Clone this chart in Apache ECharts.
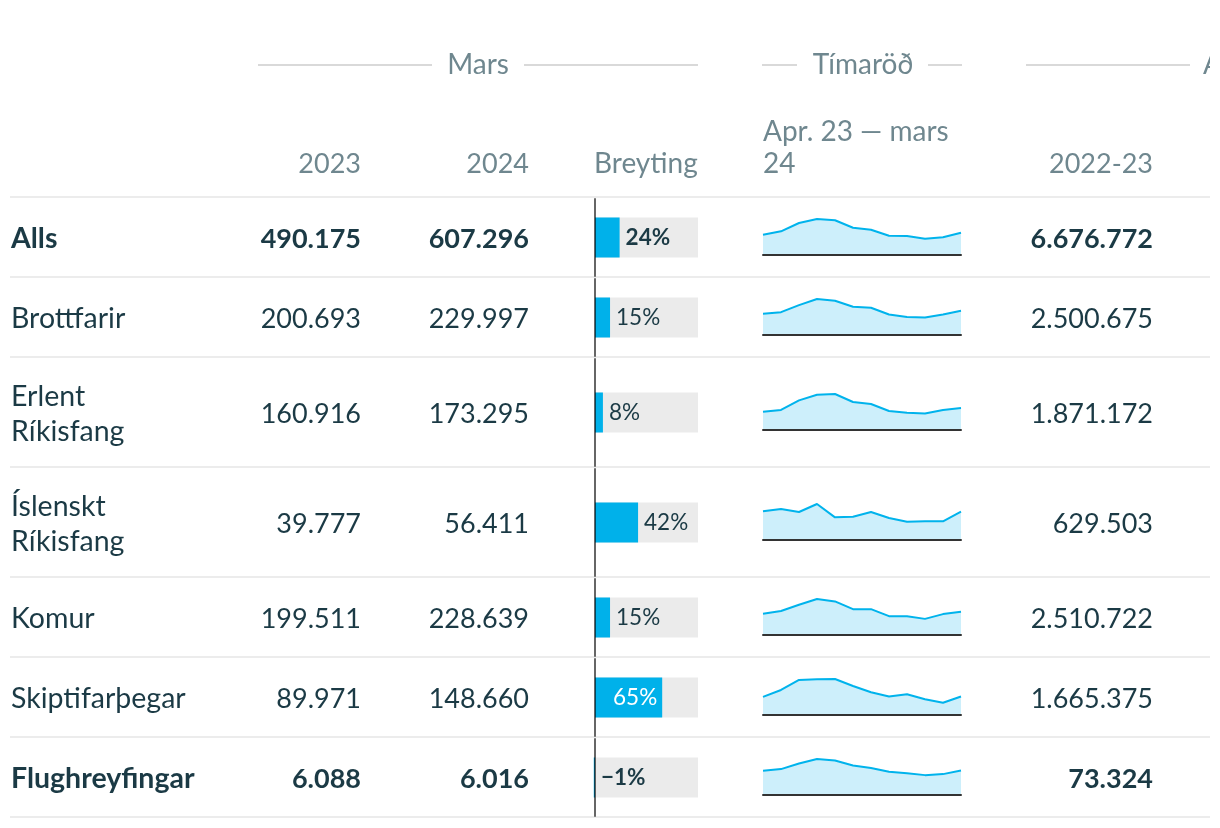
<!DOCTYPE html>
<html><head><meta charset="utf-8">
<script src="https://cdn.jsdelivr.net/npm/echarts@6/dist/echarts.min.js"></script>
<style>html,body{margin:0;padding:0;background:#fff}#c{width:1220px;height:828px}</style>
</head><body><div id="c"></div>
<script>
// ---- data ----
const rowLabels = ['Alls', 'Brottfarir', 'Erlent\nRíkisfang', 'Íslenskt\nRíkisfang', 'Komur', 'Skiptifarþegar', 'Flughreyfingar'];
const boldRows = [true, false, false, false, false, false, true];
const mars2023 = [490175, 200693, 160916, 39777, 199511, 89971, 6088];
const mars2024 = [607296, 229997, 173295, 56411, 228639, 148660, 6016];
const year2223 = [6676772, 2500675, 1871172, 629503, 2510722, 1665375, 73324];
const months = ['apr', 'maí', 'jún', 'júl', 'ágú', 'sep', 'okt', 'nóv', 'des', 'jan', 'feb', 'mar'];
const sparkAlls = [553000, 645000, 871000, 980000, 945000, 743000, 689000, 526000, 517000, 444000, 482000, 607296];
const sparkBrottfarir = [201000, 217000, 284000, 342000, 326000, 268000, 259000, 195000, 172000, 166000, 195000, 229997];
const sparkErlent = [144000, 158000, 234000, 278000, 284000, 221000, 205000, 150000, 136000, 131000, 158000, 173295];
const sparkIslenskt = [57200, 61800, 55800, 71800, 45200, 46400, 55800, 43800, 36500, 37300, 37300, 56411];
const sparkKomur = [209000, 236000, 298000, 355000, 331000, 255000, 255000, 186000, 186000, 159000, 206000, 228639];
const sparkSkipti = [146000, 201000, 281000, 286000, 289000, 233000, 183000, 148000, 167000, 127000, 98000, 148660];
const sparkFlug = [5940, 6360, 7750, 8840, 8490, 7260, 6610, 5700, 5370, 4880, 5130, 6016];
const sparks = [sparkAlls, sparkBrottfarir, sparkErlent, sparkIslenskt, sparkKomur, sparkSkipti, sparkFlug];
const groupHeaders = ['Mars', 'Tímaröð', 'Ár'];
const colHeaders = ['2023', '2024', 'Breyting', 'Apr. 23 — mars\n24', '2022-23'];

// ---- helpers ----
const FONT = 'Lato';
const HEAD = '#6f878f';
const BODY = '#1b3a45';
function fmt(n) { return String(n).replace(/\B(?=(\d{3})+(?!\d))/g, '.'); }
const change = mars2024.map((v, i) => (v / mars2023[i] - 1) * 100);
function pct(v) { const r = Math.round(v); return (r < 0 ? '\u2212' + Math.abs(r) : r) + '%'; }

// layout
const tableTop = 197;
const rowH = rowLabels.map(l => l.includes('\n') ? 110 : 80);
const rowTop = []; { let y = tableTop; rowH.forEach(h => { rowTop.push(y); y += h; }); rowTop.push(y); }

const graphic = [];
// separators
rowTop.forEach(y => graphic.push({ type: 'line', shape: { x1: 10, y1: y, x2: 1210, y2: y }, style: { stroke: '#ececec', lineWidth: 2 }, silent: true }));
// group headers
const gh = [
  { text: groupHeaders[0], cx: 478, lines: [[258, 432], [524, 698]], align: 'center' },
  { text: groupHeaders[1], cx: 863, lines: [[762, 797], [928, 962]], align: 'center' },
  { text: groupHeaders[2], cx: 1203, lines: [[1026, 1190]], align: 'left' }
];
gh.forEach(g => {
  graphic.push({ type: 'text', x: g.cx, y: 65, style: { text: g.text, font: '28px ' + FONT, fill: HEAD, align: g.align, verticalAlign: 'middle' } });
  g.lines.forEach(l => graphic.push({ type: 'line', shape: { x1: l[0], y1: 65, x2: l[1], y2: 65 }, style: { stroke: '#cccccc', lineWidth: 1.5 } }));
});
// right-edge crop of the table viewport
graphic.push({ type: 'rect', shape: { x: 1210, y: 0, width: 20, height: 828 }, style: { fill: '#ffffff' }, z: 100, silent: true });
// column headers
const colX = [361, 529, 594, 763, 1153];
const colAlign = ['right', 'right', 'left', 'left', 'right'];
colHeaders.forEach((t, i) => {
  const isNum = /^[\d-]+$/.test(t);
  graphic.push({ type: 'text', x: colX[i], y: 180, style: { text: t, font: (isNum ? '27px ' : '28px ') + FONT, fill: HEAD, align: colAlign[i], verticalAlign: 'bottom', lineHeight: 32 } });
});
// row cells
rowLabels.forEach((lab, i) => {
  const cy = rowTop[i] + rowH[i] / 2 + 2;
  const w = boldRows[i] ? 'bold ' : '';
  const f = w + '27px ' + FONT;
  graphic.push({ type: 'text', x: 11, y: cy, style: { text: lab, font: w + '28.5px ' + FONT, fill: BODY, align: 'left', verticalAlign: 'middle', lineHeight: 35 } });
  graphic.push({ type: 'text', x: 361, y: cy, style: { text: fmt(mars2023[i]), font: f, fill: BODY, align: 'right', verticalAlign: 'middle' } });
  graphic.push({ type: 'text', x: 529, y: cy, style: { text: fmt(mars2024[i]), font: f, fill: BODY, align: 'right', verticalAlign: 'middle' } });
  graphic.push({ type: 'text', x: 1153, y: cy, style: { text: fmt(year2223[i]), font: f, fill: BODY, align: 'right', verticalAlign: 'middle' } });
});

// grids
const grid = [], xAxis = [], yAxis = [], series = [];
rowLabels.forEach((lab, i) => {
  // bar grid
  grid.push({ left: 595, width: 103, top: rowTop[i] + 2, height: rowH[i] - 3, containLabel: false });
  xAxis.push({ type: 'value', gridIndex: grid.length - 1, min: 0, max: 100, show: false });
  yAxis.push({ type: 'category', gridIndex: grid.length - 1, data: [lab], z: 10,
    axisLine: { show: true, lineStyle: { color: 'rgba(0,0,0,0.6)', width: 2 } },
    axisTick: { show: false }, axisLabel: { show: false }, splitLine: { show: false } });
  const inside = change[i] > 50;
  series.push({ type: 'bar', xAxisIndex: grid.length - 1, yAxisIndex: grid.length - 1, silent: true, clip: false,
    barWidth: 40, showBackground: true, backgroundStyle: { color: '#ebebeb' },
    itemStyle: { color: '#00b1ea' },
    label: { show: true, position: inside ? 'insideRight' : 'right', distance: inside ? 5 : 6,
      formatter: () => pct(change[i]), color: inside ? '#ffffff' : BODY,
      fontFamily: FONT, fontSize: 22.5, fontWeight: boldRows[i] ? 'bold' : 'normal' },
    data: [change[i]] });
});
rowLabels.forEach((lab, i) => {
  const base = rowTop[i] + rowH[i] / 2 + 18;
  grid.push({ left: 763, width: 198, top: base - 36, height: 36 });
  const gi = grid.length - 1;
  xAxis.push({ type: 'category', gridIndex: gi, data: months, boundaryGap: false, z: 10,
    axisLine: { show: true, lineStyle: { color: '#333333', width: 2 } },
    axisTick: { show: false }, axisLabel: { show: false }, splitLine: { show: false } });
  yAxis.push({ type: 'value', gridIndex: gi, min: 0, max: 'dataMax', show: false });
  series.push({ type: 'line', xAxisIndex: gi, yAxisIndex: gi, silent: true, symbol: 'none',
    lineStyle: { color: '#00b3ec', width: 2 }, areaStyle: { color: '#cdeffb', opacity: 1 },
    data: sparks[i] });
});

const chart = echarts.init(document.getElementById('c'), null, { renderer: 'canvas' });
chart.setOption({ animation: false, backgroundColor: '#ffffff', textStyle: { fontFamily: FONT },
  grid, xAxis, yAxis, series, graphic });
</script></body></html>
